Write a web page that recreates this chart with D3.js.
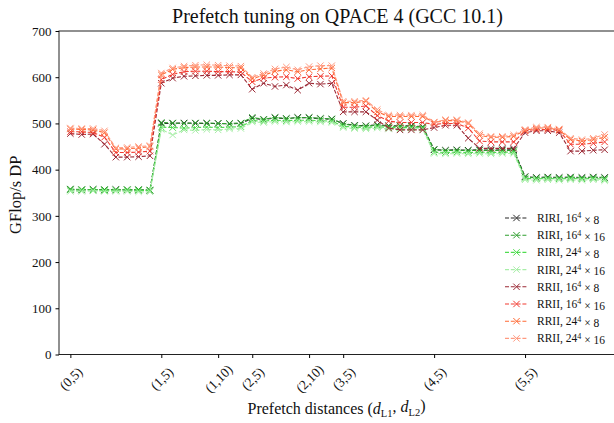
<!DOCTYPE html>
<html lang="en">
  <head>
    <meta charset="utf-8">
    <title>Prefetch tuning</title>
    <style>
      body { margin: 0; background: #fff; }
      text { font-family: "Liberation Serif", "DejaVu Serif", serif; fill: #111; }
      .line { fill: none; stroke-width: 1.1px; stroke-dasharray: 4,1.8; }
      .mark { stroke-width: 1px; }
    </style>
  </head>
  <body>
<script src="https://cdn.jsdelivr.net/npm/d3@7"></script>
<script>

// data: x runs over (d_L1, d_L2) with d_L1 = 0..5 and d_L2 = 5..12
const l1Values = [0, 1, 2, 3, 4, 5]
const l2Values = [5, 6, 7, 8, 9, 10, 11, 12]
const tickLabels = ["(0,5)", "(1,5)", "(1,10)", "(2,5)", "(2,10)", "(3,5)", "(4,5)", "(5,5)"]
const tickIndex = [0, 8, 13, 16, 21, 24, 32, 40]
const yTicks = [0, 100, 200, 300, 400, 500, 600, 700]

const seriesNames = ["RIRI, 16|×8", "RIRI, 16|×16", "RIRI, 24|×8", "RIRI, 24|×16",
                     "RRII, 16|×8", "RRII, 16|×16", "RRII, 24|×8", "RRII, 24|×16"]
const seriesColors = ["#262626", "#2e9e2e", "#4fdc4f", "#a8eea8",
                      "#9c2a36", "#f23a30", "#ff6a35", "#ff9a80"]

const riri16x8 = [357,356,357,356,357,356,356,355, 500,500,501,500,500,500,499,500,
                  511,508,512,510,513,512,510,509, 500,496,495,497,495,495,495,493,
                  443,442,443,442,443,442,443,443, 385,383,384,383,384,383,384,383]
const riri16x16 = [358,357,357,357,356,357,357,356, 502,501,500,501,501,500,500,501,
                   513,509,513,511,512,513,511,510, 499,495,494,496,494,494,494,492,
                   444,441,442,441,442,441,442,441, 384,382,383,382,383,382,383,382]
const riri24x8 = [356,356,356,355,356,356,355,355, 492,491,490,491,492,491,492,493,
                  506,505,507,506,507,507,506,505, 494,492,491,493,491,491,491,490,
                  438,437,438,437,438,437,438,438, 381,380,381,380,381,380,381,379]
const riri24x16 = [353,353,354,353,353,353,352,352, 487,475,486,485,487,486,488,489,
                   503,502,504,503,504,504,503,502, 491,489,488,490,488,488,488,487,
                   435,434,435,434,435,434,435,435, 378,377,378,377,378,377,378,376]
const rrii16x8 = [478,476,477,455,427,427,428,430, 587,598,602,603,604,604,605,605,
                  574,587,580,583,572,587,585,587, 525,525,525,507,490,486,486,486,
                  491,496,496,468,446,446,446,446, 480,484,484,480,440,440,442,443]
const rrii16x16 = [482,482,480,470,437,437,438,440, 595,606,612,613,613,612,612,611,
                   590,598,600,601,597,601,602,603, 535,535,538,517,505,502,502,502,
                   498,500,500,490,462,460,460,460, 484,487,487,485,455,455,457,460]
const rrii24x8 = [488,487,486,480,445,445,447,450, 605,617,621,622,622,622,621,620,
                  597,604,613,616,612,616,618,620, 545,545,548,525,515,515,515,515,
                  502,506,506,500,474,470,470,472, 485,490,490,486,465,462,465,470]
const rrii24x16 = [490,489,489,484,447,448,450,452, 609,620,624,626,627,626,625,624,
                   600,608,618,622,616,623,625,625, 548,548,550,530,518,518,518,518,
                   503,508,508,502,478,472,472,475, 487,492,492,488,468,465,468,476]

const seriesValues = [riri16x8, riri16x16, riri24x8, riri24x16, rrii16x8, rrii16x16, rrii24x8, rrii24x16]

// ************** layout *****************
const W = 614, H = 423
const margin = {top: 31, right: 2, bottom: 69, left: 59}

const svg = d3.select("body").append("svg")
    .attr("width", W).attr("height", H)

const nPts = l1Values.length * l2Values.length
const x = d3.scaleLinear().domain([-1, nPts]).range([margin.left, W - margin.right + 4])
const y = d3.scaleLinear().domain([0, 700]).range([H - margin.bottom + 0.5, margin.top])

// axes box
svg.append("rect")
    .attr("x", margin.left).attr("y", margin.top)
    .attr("width", W - margin.right + 4 - margin.left)
    .attr("height", y(0) - margin.top)
    .attr("fill", "none").attr("stroke", "#222").attr("stroke-width", 1)

// y axis
const yAxis = d3.axisLeft(y).tickValues(yTicks).tickSize(3.5).tickPadding(4)
svg.append("g")
    .attr("transform", `translate(${margin.left},0)`)
    .call(yAxis)
    .call(g => g.select(".domain").remove())
    .call(g => g.selectAll("text").style("font-size", "13px").style("font-family", "Liberation Serif, serif"))

// x axis with rotated labels
const xAxis = d3.axisBottom(x).tickValues(tickIndex).tickSize(3.5).tickFormat((d, i) => tickLabels[i])
const xg = svg.append("g")
    .attr("transform", `translate(0,${y(0)})`)
    .call(xAxis)
    .call(g => g.select(".domain").remove())
xg.selectAll("text")
    .style("font-size", "13.5px").style("font-family", "Liberation Serif, serif")
    .attr("text-anchor", "middle")
    .attr("dy", "0.35em")
    .attr("y", 0)
    .attr("transform", "translate(0,24) rotate(-45)")

// lines and markers
const line = d3.line().x((d, i) => x(i)).y(d => y(d))

seriesValues.forEach((vals, s) => {
    const g = svg.append("g")
    g.append("path")
        .attr("class", "line")
        .attr("d", line(vals))
        .attr("stroke", seriesColors[s])
    g.selectAll("path.mark")
        .data(vals)
        .enter().append("path")
        .attr("class", "mark")
        .attr("d", (d, i) => {
            const cx = x(i), cy = y(d), r = 3.2
            return `M${cx - r},${cy - r}L${cx + r},${cy + r}M${cx - r},${cy + r}L${cx + r},${cy - r}`
        })
        .attr("stroke", seriesColors[s])
})

// legend
const leg = svg.append("g").attr("transform", "translate(505,218)")
seriesNames.forEach((name, s) => {
    const row = leg.append("g").attr("transform", `translate(0,${s * 17.2})`)
    row.append("line")
        .attr("class", "line")
        .attr("x1", 0).attr("x2", 23).attr("y1", 0).attr("y2", 0)
        .attr("stroke", seriesColors[s])
    row.append("path")
        .attr("class", "mark")
        .attr("d", "M8.3,-3.2L14.7,3.2M8.3,3.2L14.7,-3.2")
        .attr("stroke", seriesColors[s])
    const parts = name.split("|")
    const t = row.append("text")
        .attr("x", 32).attr("y", 0).attr("dy", "0.35em")
        .style("font-size", "11.5px")
    t.append("tspan").text(parts[0])
    t.append("tspan").text("4").attr("dy", "-0.45em").style("font-size", "8px")
    t.append("tspan").text(" " + parts[1].replace("×", "× ")).attr("dy", "0.45em")
})

// title and axis labels
svg.append("text")
    .attr("x", (margin.left + W) / 2 + 1).attr("y", 23)
    .attr("text-anchor", "middle")
    .style("font-size", "20px")
    .text("Prefetch tuning on QPACE 4 (GCC 10.1)")

svg.append("text")
    .attr("transform", `translate(21,${(margin.top + y(0)) / 2 + 2}) rotate(-90)`)
    .attr("text-anchor", "middle")
    .style("font-size", "16.5px")
    .text("GFlop/s DP")

const xl = svg.append("text")
    .attr("x", (margin.left + W) / 2).attr("y", 414)
    .attr("text-anchor", "middle")
    .style("font-size", "16px")
xl.append("tspan").text("Prefetch distances (")
xl.append("tspan").text("d").style("font-style", "italic")
xl.append("tspan").text("L1").attr("dy", "0.3em").style("font-size", "10.5px")
xl.append("tspan").text(", ").attr("dy", "-0.3em")
xl.append("tspan").text("d").style("font-style", "italic")
xl.append("tspan").text("L2").attr("dy", "0.3em").style("font-size", "10.5px")
xl.append("tspan").text(")").attr("dy", "-0.3em")

</script>
  </body>
</html>
